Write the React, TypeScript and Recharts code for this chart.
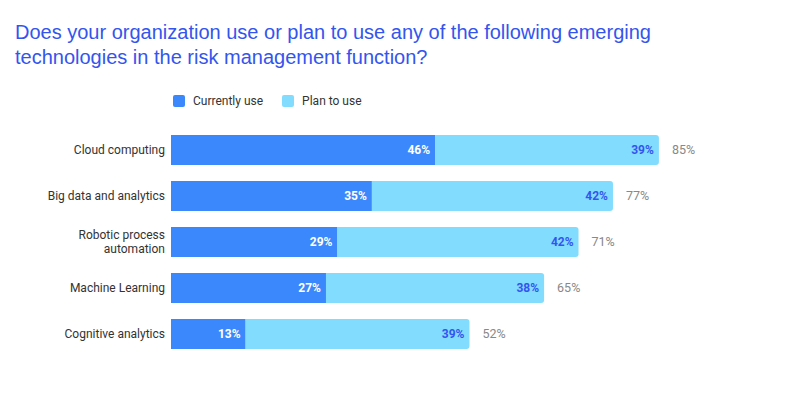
import React from 'react';
import { BarChart, Bar, XAxis, YAxis, Legend, LabelList } from 'recharts';

const categories = [
  'Cloud computing',
  'Big data and analytics',
  'Robotic process automation',
  'Machine Learning',
  'Cognitive analytics',
];
const currentlyUse = [46, 35, 29, 27, 13];
const planToUse = [39, 42, 42, 38, 39];

const data = categories.map((name, i) => ({
  name,
  current: currentlyUse[i],
  plan: planToUse[i],
  total: currentlyUse[i] + planToUse[i],
}));

const DARK = '#3b88fd';
const LIGHT = '#82dcfe';
const FONT = 'Roboto, "Noto Sans", sans-serif';

const CategoryTick = ({ x, y, payload }: any) => {
  const label: string = payload.value;
  let lines = [label];
  if (label.length > 24) {
    const cut = label.lastIndexOf(' ', 16);
    lines = [label.slice(0, cut), label.slice(cut + 1)];
  }
  const start = -((lines.length - 1) * 14) / 2;
  return (
    <text x={x + 2} y={y} textAnchor="end" fill="#333" fontSize={12} fontFamily={FONT}>
      {lines.map((l, i) => (
        <tspan key={i} x={x + 2} y={y + start + i * 14} dy="0.355em">
          {l}
        </tspan>
      ))}
    </text>
  );
};

const InnerLabel = (color: string) => (props: any) => {
  const { x, y, width, height, value } = props;
  return (
    <text
      x={x + width - 5}
      y={y + height / 2}
      dy="0.355em"
      textAnchor="end"
      fill={color}
      fontSize={12}
      fontWeight="bold"
      fontFamily={FONT}
    >
      {value}%
    </text>
  );
};

const TotalLabel = (props: any) => {
  const { x, y, width, height, value } = props;
  return (
    <text
      x={x + width + 13}
      y={y + height / 2}
      dy="0.355em"
      textAnchor="start"
      fill="#888"
      fontSize={12.5}
      fontFamily={FONT}
    >
      {value}%
    </text>
  );
};

const LegendContent = () => (
  <div style={{ display: 'flex', alignItems: 'center', fontFamily: FONT, fontSize: 12, color: '#333' }}>
    <span style={{ width: 12, height: 12, background: DARK, borderRadius: 2, marginRight: 8 }} />
    <span style={{ marginRight: 19 }}>Currently use</span>
    <span style={{ width: 12, height: 12, background: LIGHT, borderRadius: 2, marginRight: 8 }} />
    <span>Plan to use</span>
  </div>
);

export default function App() {
  return (
    <div style={{ position: 'absolute', left: 0, top: 0, width: 786, height: 415, background: '#fff' }}>
      <div
        style={{
          position: 'absolute',
          left: 15,
          top: 20,
          width: 700,
          fontFamily: '"Liberation Sans", Arial, sans-serif',
          fontSize: 20,
          lineHeight: '25px',
          color: '#3355ee',
        }}
      >
        Does your organization use or plan to use any of the following emerging technologies in the risk management
        function?
      </div>
      <BarChart
        width={786}
        height={415}
        data={data}
        layout="vertical"
        margin={{ top: 113, right: 41, bottom: 58, left: 11 }}
        barCategoryGap={16}
      >
        <XAxis type="number" domain={[0, 100]} hide />
        <YAxis
          type="category"
          dataKey="name"
          width={160}
          axisLine={false}
          tickLine={false}
          tick={<CategoryTick />}
        />
        <Legend
          verticalAlign="top"
          align="left"
          content={<LegendContent />}
          wrapperStyle={{ top: 94, left: 173, width: 300 }}
        />
        <Bar dataKey="current" stackId="a" fill={DARK} barSize={30} isAnimationActive={false}>
          <LabelList dataKey="current" content={InnerLabel('#ffffff')} />
        </Bar>
        <Bar dataKey="plan" stackId="a" fill={LIGHT} barSize={30} radius={[0, 3, 3, 0]} isAnimationActive={false}>
          <LabelList dataKey="plan" content={InnerLabel('#3355ee')} />
          <LabelList dataKey="total" content={TotalLabel} />
        </Bar>
      </BarChart>
    </div>
  );
}
